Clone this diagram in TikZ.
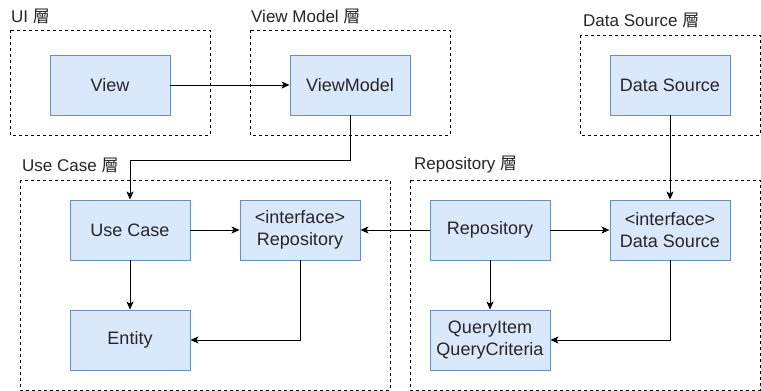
\documentclass[tikz,border=0pt]{standalone}
\usepackage{fontspec}
\setmainfont{Liberation Sans}
\newfontfamily\cjk{Noto Sans CJK TC}
\usetikzlibrary{arrows.meta}
\definecolor{boxfill}{HTML}{DAE8FC}
\definecolor{boxline}{HTML}{6C8EBF}
\tikzset{
  layer/.style={draw, dashed, line width=.8pt},
  part/.style={draw=boxline, fill=boxfill, line width=.9pt, minimum width=120pt,
    minimum height=60pt, inner sep=0pt, align=center,
    font=\fontsize{18}{22}\selectfont, text=black!85},
  title/.style={anchor=west, inner sep=0pt, font=\fontsize{17}{18}\selectfont, text=black!85},
  link/.style={line width=.9pt, -{Stealth[length=8pt,width=7pt,inset=2pt]}},
}
\begin{document}
\begin{tikzpicture}[x=1pt,y=-1pt]
  \useasboundingbox (0,0) rectangle (761,391);
  % layers
  \draw[layer] (10,30) rectangle (210,135);
  \draw[layer] (250,30) rectangle (450,135);
  \draw[layer] (580,35) rectangle (760,135);
  \draw[layer] (20,180) rectangle (390,390);
  \draw[layer] (410,180) rectangle (760,390);
  \node[title] (uiT) at (11,16) {UI {\cjk 層}};
  \node[title] (vmT) at (251,16) {View Model {\cjk 層}};
  \node[title] (dsT) at (583,20) {Data Source {\cjk 層}};
  \node[title] (ucT) at (22,165) {Use Case {\cjk 層}};
  \node[title] (repoT) at (414,165) {Repository {\cjk 層}};
  % parts
  \node[part] (view) at (110,85) {View};
  \node[part] (vm) at (350,85) {ViewModel};
  \node[part] (ds) at (670,85) {Data Source};
  \node[part] (uc) at (130,230) {Use Case};
  \node[part] (irepo) at (300,230) {<interface>\\Repository};
  \node[part] (entity) at (130,340) {Entity};
  \node[part] (repo) at (490,230) {Repository};
  \node[part] (ids) at (670,230) {<interface>\\Data Source};
  \node[part] (query) at (490,340) {QueryItem\\QueryCriteria};
  % links
  \draw[link] (view) -- (vm);
  \draw[link] (vm.south) |- (130,160) -- (uc.north);
  \draw[link] (ds) -- (ids);
  \draw[link] (uc) -- (irepo);
  \draw[link] (repo) -- (irepo);
  \draw[link] (repo) -- (ids);
  \draw[link] (uc) -- (entity);
  \draw[link] (irepo.south) |- (entity.east);
  \draw[link] (repo) -- (query);
  \draw[link] (ids.south) |- (query.east);
\end{tikzpicture}
\end{document}
